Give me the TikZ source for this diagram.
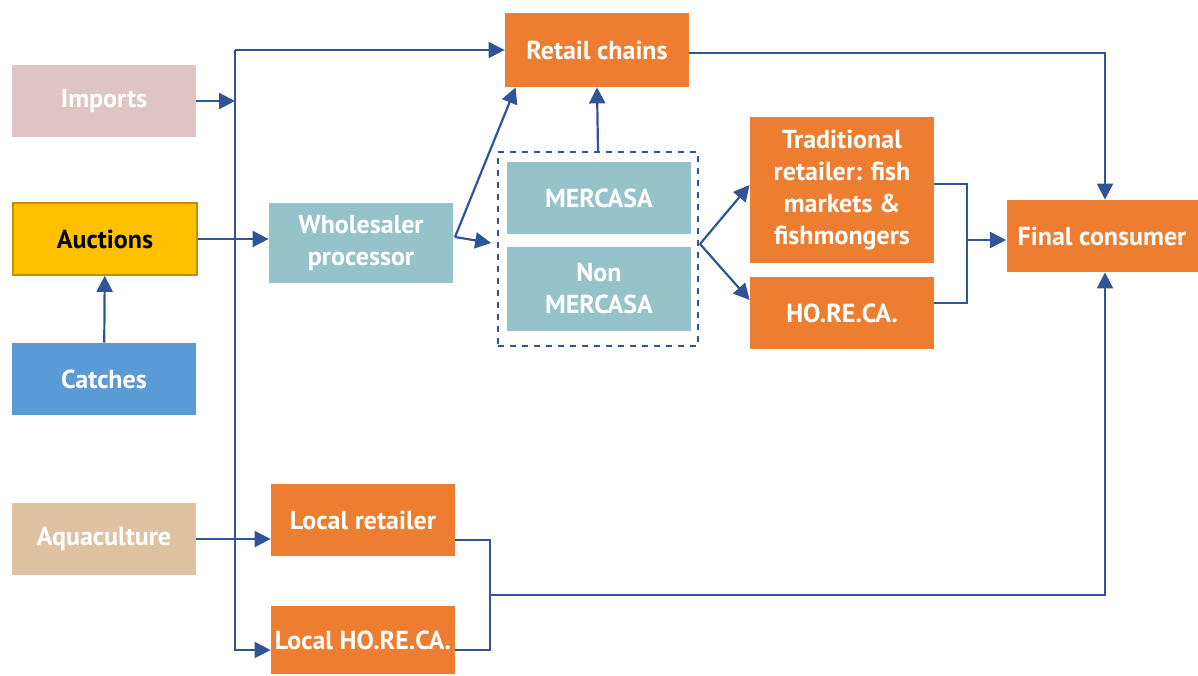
\documentclass[tikz,border=0pt]{standalone}
\usepackage{fontspec}
\setmainfont{PT Sans}
\usepackage{tikz}
\usetikzlibrary{arrows.meta,positioning}

\definecolor{fishorange}{HTML}{ED7D31}
\definecolor{fishteal}{HTML}{96C3C9}
\definecolor{fishpink}{HTML}{E0C3C3}
\definecolor{fishtan}{HTML}{DFC2A1}
\definecolor{fishblue}{HTML}{5B9BD5}
\definecolor{fishyellow}{HTML}{FFC000}
\definecolor{fishgold}{HTML}{BF9000}
\definecolor{fishline}{HTML}{2F5597}

\tikzset{
	chainbox/.style={rectangle, inner sep=1pt, align=center, text=white,
		font=\fontsize{13}{16}\selectfont\bfseries, minimum width=92pt, minimum height=36pt},
	arr/.style={draw=fishline, line width=1.1pt, -{Triangle[length=8pt,width=8pt]}},
	link/.style={draw=fishline, line width=0.9pt}
}

\begin{document}
\begin{tikzpicture}[x=0.5pt, y=-0.5pt]
		\useasboundingbox (0,0) rectangle (1198,675);
		% sources
		\node[chainbox, fill=fishpink] (imports) at (104,101) {Imports};
		\node[chainbox, fill=fishyellow, draw=fishgold, line width=0.8pt, text=black] (auctions) at (105,239) {Auctions};
		\node[chainbox, fill=fishblue] (catches) at (104,379) {Catches};
		\node[chainbox, fill=fishtan] (aqua) at (104,539) {Aquaculture};
		% middle
		\node[chainbox, fill=fishteal, minimum height=40pt] (wholesaler) at (361,243) {Wholesaler\\processor};
		\node[chainbox, fill=fishorange, minimum height=37pt] (retail) at (597,50) {Retail chains};
		\node[draw=fishline, dashed, line width=0.9pt, minimum width=100pt, minimum height=97pt] (mbox) at (598,249) {};
		\node[chainbox, fill=fishteal] (mercasa) at (599,198) {MERCASA};
		\node[chainbox, fill=fishteal, minimum height=42pt] (nonmercasa) at (599,289) {Non\\MERCASA};
		\node[chainbox, fill=fishorange, minimum height=73pt] (trad) at (842,190) {Traditional\\retailer: fish\\markets \&\\fishmongers};
		\node[chainbox, fill=fishorange] (horeca) at (842,313) {HO.RE.CA.};
		\node[chainbox, fill=fishorange, minimum width=95.5pt, inner sep=0pt] (final) at (1102,236) {Final consumer};
		\node[chainbox, fill=fishorange] (localret) at (363,520) {Local retailer};
		\node[chainbox, fill=fishorange, minimum height=34pt, inner sep=0pt] (localhoreca) at (363,640) {Local HO.RE.CA.};
		% junctions
		\coordinate (top) at (235,50);
		\coordinate (bot) at (235,650);
		\coordinate (wsout) at (455,237);
		\coordinate (split) at (700,244);
		\coordinate (jr) at (967,240);
		\coordinate (jl) at (490,595);
		% connectors
		\draw[arr] (imports.east) -- (imports.east -| top);
		\draw[arr] (top) -- (retail.west |- top);
		\draw[arr] (top) -- (bot) -- (localhoreca.west |- bot);
		\draw[arr] (auctions.east) -- (wholesaler.west |- auctions.east);
		\draw[arr] (catches) -- (auctions);
		\draw[arr] (aqua.east) -- (localret.west |- aqua.east);
		\draw[arr] (wsout) -- ([xshift=5.5pt]retail.south west);
		\draw[arr, shorten >=3pt] (wsout) -- (mbox.west |- split);
		\draw[arr] (mbox.north) -- (retail.south);
		\draw[arr] (split) -- ([yshift=2.5pt]trad.west);
		\draw[arr] (split) -- ([yshift=6.5pt]horeca.west);
		\draw[link] ([yshift=3pt]trad.east) -| (jr) |- ([yshift=5pt]horeca.east);
		\draw[arr] (jr) -- (final.west |- jr);
		\draw[arr, line width=0.9pt] ([yshift=-1.5pt]retail.east) -| ([xshift=1.5pt]final.north);
		\draw[link] ([yshift=-10pt]localret.east) -| (jl) |- ([yshift=-5pt]localhoreca.east);
		\draw[arr, line width=0.9pt] (jl) -| ([xshift=1.5pt]final.south);
	\end{tikzpicture}
\end{document}
